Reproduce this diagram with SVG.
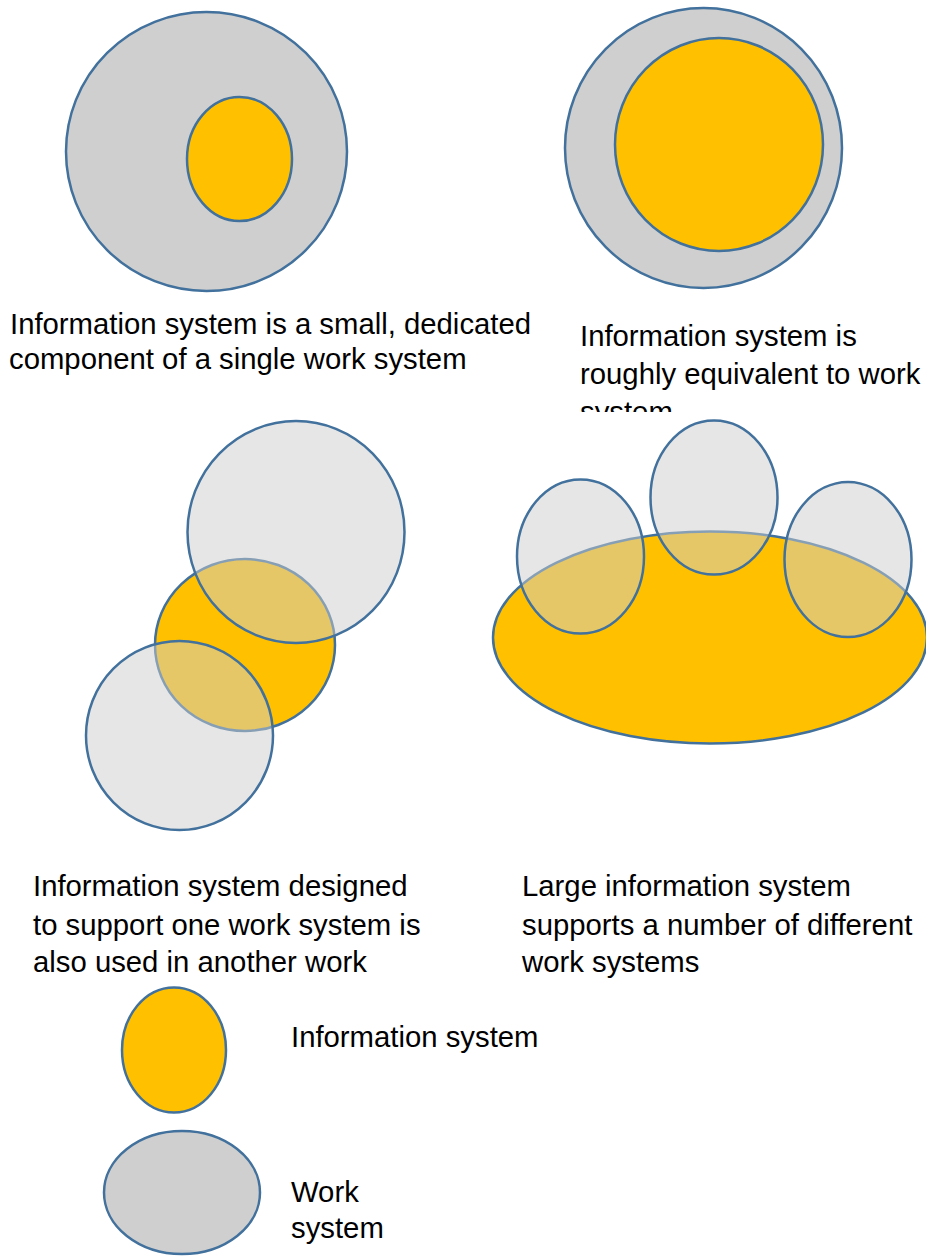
<svg xmlns="http://www.w3.org/2000/svg" width="926" height="1257" viewBox="0 0 926 1257">
<style>
.ws{fill:#cfcfcf;stroke:#41719c;stroke-width:2.5}
.wst{fill:#cecece;fill-opacity:0.5;stroke:#41719c;stroke-width:2.5}
.is{fill:#ffc000;stroke:#41719c;stroke-width:2.5}
.lbl{font-family:"Liberation Sans",Arial,sans-serif;font-size:29.3px;fill:#000}
</style>
<defs>
<clipPath id="clipTR"><rect x="560" y="300" width="366" height="112"/></clipPath>
</defs>
<rect width="926" height="1257" fill="#fff"/>
<g id="connectors"/>
<g id="case1">
<ellipse class="ws" cx="206.5" cy="151.5" rx="140.5" ry="139.5"/>
<ellipse class="is" cx="239.5" cy="159" rx="52.5" ry="62"/>
<text class="lbl" x="10" y="334">Information system is a small, dedicated<tspan x="9" y="369">component of a single work system</tspan></text>
</g>
<g id="case2">
<ellipse class="ws" cx="703.5" cy="148" rx="138.5" ry="140"/>
<ellipse class="is" cx="719" cy="144.5" rx="104" ry="106.5"/>
<text class="lbl" clip-path="url(#clipTR)" x="580" y="346">Information system is<tspan x="580" y="384">roughly equivalent to work</tspan><tspan x="580" y="422">system</tspan></text>
</g>
<g id="case3">
<ellipse class="is" cx="245" cy="645" rx="90" ry="86"/>
<ellipse class="wst" cx="296" cy="532" rx="108.5" ry="111"/>
<ellipse class="wst" cx="179.5" cy="735.5" rx="93.5" ry="94.5"/>
<text class="lbl" x="33" y="896">Information system designed<tspan x="33" y="934.5">to support one work system is</tspan><tspan x="33" y="972">also used in another work</tspan></text>
</g>
<g id="case4">
<ellipse class="is" cx="710" cy="637.5" rx="217" ry="106"/>
<ellipse class="wst" cx="580.5" cy="556.5" rx="63.5" ry="77"/>
<ellipse class="wst" cx="714" cy="497.5" rx="63.5" ry="77"/>
<ellipse class="wst" cx="848" cy="559.5" rx="63.5" ry="77.5"/>
<text class="lbl" x="522" y="896">Large information system<tspan x="522" y="934.5">supports a number of different</tspan><tspan x="522" y="972">work systems</tspan></text>
</g>
<g id="legend-is">
<ellipse class="is" cx="174" cy="1050" rx="52" ry="62.5"/>
<text class="lbl" x="291" y="1046.5">Information system</text>
</g>
<g id="legend-ws">
<ellipse class="ws" cx="182" cy="1192.5" rx="78" ry="61.5"/>
<text class="lbl" x="291" y="1201.5">Work<tspan x="291" y="1238">system</tspan></text>
</g>
</svg>
